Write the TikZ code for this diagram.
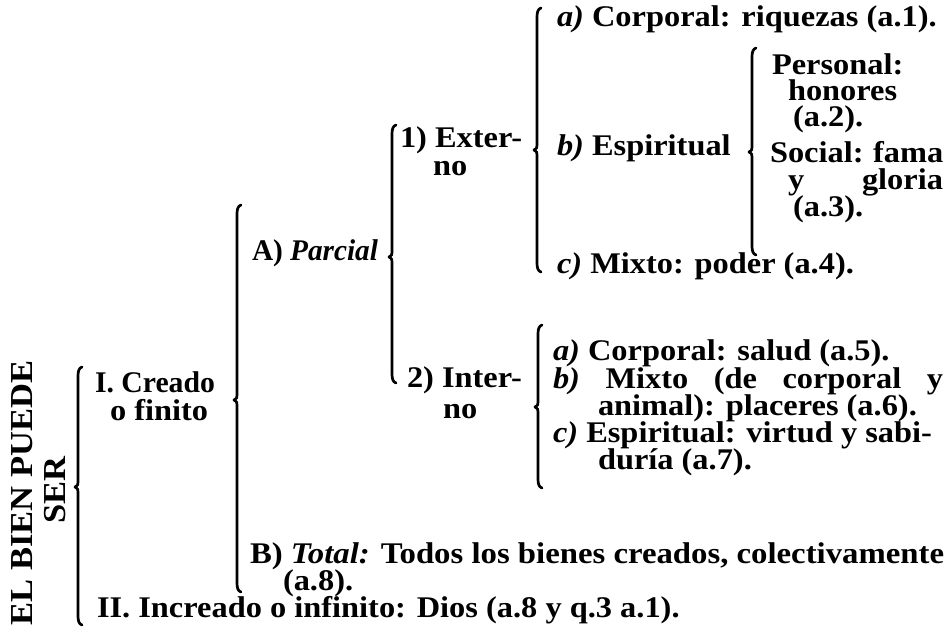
\documentclass[tikz,border=0pt]{standalone}
\usepackage{fontspec}
\usepackage{graphicx}
\setmainfont{Liberation Serif}[FakeStretch=1.08]
\newcommand\mybrace[4]{%
  \draw[brc] ({#1+4},#2) .. controls ({#1+1},{#2+1}) and (#1,{#2+4}) .. (#1,{#2+9})
    -- (#1,{#3-5}) .. controls (#1,{#3-2}) .. ({#1-3},#3) .. controls (#1,{#3+2}) .. (#1,{#3+5})
    -- (#1,{#4-9}) .. controls (#1,{#4-4}) and ({#1+1},{#4-1}) .. ({#1+4},#4);}
\newcommand\fitw[2]{\resizebox{#1}{\height}{#2}}
\begin{document}
\begin{tikzpicture}[x=1pt,y=-1pt,
  txt/.style={anchor=base west,inner sep=0pt,outer sep=0pt,font=\fontsize{30}{26}\selectfont\bfseries},
  vtxt/.style={anchor=base,inner sep=0pt,outer sep=0pt,rotate=90,font=\fontsize{32}{30}\selectfont\bfseries},
  brc/.style={line width=2.7pt,line cap=round,line join=round}]
\useasboundingbox (0,0) rectangle (947,635);
% braces
\mybrace{78}{367}{487}{625}
\mybrace{237}{205}{400}{592}
\mybrace{392}{125}{257}{383}
\mybrace{537}{8}{150}{272}
\mybrace{752}{48}{152}{255}
\mybrace{538}{325}{407}{488}
% left title
\node[vtxt] (elbien) at (32,493) {EL BIEN PUEDE};
\node[vtxt] (ser) at (65,490) {SER};
% level I
\node[txt] (creado) at (95,392) {\fitw{120pt}{I. Creado}};
\node[txt] (finito) at (110,420) {o finito};
\node[txt] (parcial) at (252,260) {\fitw{126pt}{A) \textit{Parcial}}};
\node[txt] (externo1) at (400,147) {1) Exter-};
\node[txt] (externo2) at (433,175) {no};
\node[txt] (interno1) at (407,387) {2) Inter-};
\node[txt] (interno2) at (443,418) {no};
% externo block
\node[txt] (ea) at (557,26) {\textit{a)} Corporal: riquezas (a.1).};
\node[txt] (eb) at (557,155) {\textit{b)} Espiritual};
\node[txt] (personal1) at (772,74) {Personal:};
\node[txt] (personal2) at (788,100) {honores};
\node[txt] (personal3) at (793,126) {(a.2).};
\node[txt] (social1) at (770,162) {\makebox[173pt][s]{Social: fama}};
\node[txt] (social2) at (788,189) {\makebox[155pt][s]{y gloria}};
\node[txt] (social3) at (793,216) {(a.3).};
\node[txt] (ec) at (557,273) {\textit{c)} Mixto: poder (a.4).};
% interno block
\node[txt] (ia) at (553,360) {\textit{a)} Corporal: salud (a.5).};
\node[txt] (ib1) at (553,388) {\makebox[390pt][s]{\textit{b)} Mixto (de corporal y}};
\node[txt] (ib2) at (598,415) {animal): placeres (a.6).};
\node[txt] (ic1) at (553,442) {\textit{c)} Espiritual: virtud y sabi-};
\node[txt] (ic2) at (598,469) {duría (a.7).};
% total
\node[txt] (total1) at (250,563) {\fitw{694pt}{B) \textit{Total:} Todos los bienes creados, colectivamente}};
\node[txt] (total2) at (283,590) {(a.8).};
\node[txt] (increado) at (97,617) {II. Increado o infinito: Dios (a.8 y q.3 a.1).};
\end{tikzpicture}
\end{document}
